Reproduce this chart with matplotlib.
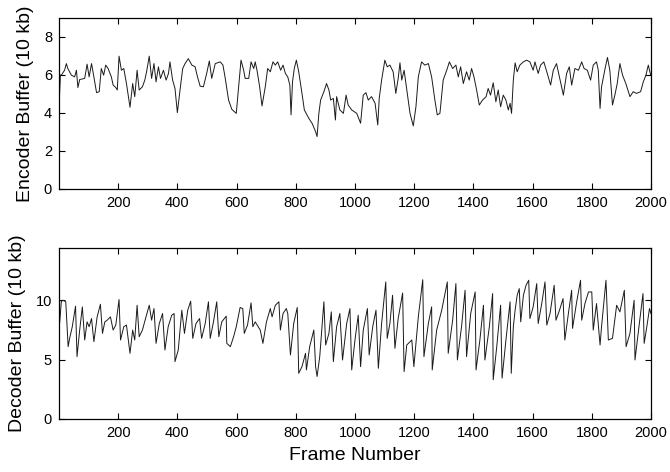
import matplotlib
matplotlib.use("Agg")
import matplotlib.pyplot as plt

plt.rcParams['font.family'] = ['Liberation Sans', 'DejaVu Sans']

enc_frames = [0, 5, 8, 19, 25, 30, 42, 53, 59, 64, 70, 87, 95, 102, 110, 117, 127, 136, 143, 151, 158, 166, 177, 183, 192, 197,
              203, 211, 219, 228, 240, 249, 256, 264, 271, 282, 290, 296, 305, 313, 321, 328, 336, 343, 353, 362, 370, 375, 384,
              392, 400, 409, 418, 426, 437, 449, 460, 468, 477, 488, 499, 508, 516, 528, 545, 554, 561, 573, 584, 599, 607, 615,
              624, 629, 641, 649, 658, 663, 669, 678, 686, 697, 705, 714, 723, 731, 739, 749, 757, 765, 773, 780, 784, 789, 795,
              802, 810, 821, 829, 844, 855, 867, 872, 878, 884, 895, 904, 912, 918, 927, 934, 938, 949, 961, 970, 977, 989, 1006,
              1019, 1028, 1037, 1045, 1056, 1068, 1077, 1082, 1090, 1101, 1109, 1118, 1129, 1138, 1146, 1152, 1158, 1166, 1175,
              1186, 1197, 1206, 1214, 1225, 1236, 1248, 1259, 1270, 1278, 1287, 1298, 1310, 1319, 1330, 1341, 1349, 1357, 1366,
              1377, 1386, 1394, 1402, 1411, 1420, 1431, 1443, 1450, 1458, 1467, 1476, 1484, 1492, 1501, 1510, 1518, 1524, 1529,
              1535, 1541, 1548, 1557, 1569, 1580, 1591, 1602, 1608, 1619, 1627, 1638, 1648, 1661, 1670, 1681, 1693, 1704, 1715,
              1724, 1732, 1743, 1755, 1766, 1774, 1785, 1796, 1805, 1816, 1822, 1828, 1833, 1845, 1853, 1861, 1870, 1878, 1886,
              1895, 1904, 1915, 1929, 1940, 1951, 1965, 1974, 1983, 1991, 1999]
enc_values = [4.30, 6.00, 5.99, 6.25, 6.60, 6.34, 5.99, 5.90, 6.25, 5.34, 5.76, 5.82, 6.57, 5.90, 6.60, 5.99, 5.07, 5.12, 6.34,
              5.99, 6.52, 6.34, 5.90, 5.47, 5.34, 5.21, 6.99, 6.25, 6.34, 5.55, 4.30, 5.55, 4.86, 6.25, 5.21, 5.38, 5.73, 6.17,
              6.99, 5.82, 6.60, 5.64, 6.43, 5.82, 6.25, 5.73, 6.08, 6.69, 5.73, 5.29, 4.02, 5.21, 6.34, 6.60, 6.86, 6.52, 6.43,
              5.90, 5.41, 5.38, 6.08, 6.74, 5.82, 6.60, 6.69, 6.52, 5.90, 4.68, 4.19, 3.98, 5.38, 6.78, 6.25, 5.82, 5.82, 6.69,
              6.34, 6.69, 6.25, 5.38, 4.37, 5.38, 6.34, 6.17, 6.69, 6.52, 6.69, 6.25, 6.52, 6.08, 5.90, 5.47, 3.90, 5.64, 6.34,
              6.78, 6.17, 5.03, 4.16, 3.72, 3.46, 3.02, 2.76, 3.98, 4.68, 5.12, 5.55, 5.21, 4.68, 4.77, 3.63, 4.86, 4.16, 3.98,
              4.94, 4.42, 4.16, 3.98, 3.46, 4.94, 5.07, 4.68, 4.86, 4.51, 3.37, 4.77, 5.73, 6.78, 6.43, 6.52, 6.17, 5.03, 5.82,
              6.64, 5.73, 6.25, 5.21, 3.98, 3.32, 4.33, 5.90, 6.69, 6.52, 6.60, 5.90, 4.68, 3.90, 3.98, 5.73, 6.25, 6.69, 6.34,
              6.52, 5.90, 6.43, 5.55, 6.17, 5.73, 6.34, 5.90, 5.21, 4.42, 4.68, 4.86, 5.29, 4.94, 5.59, 4.59, 5.21, 4.33, 4.94,
              4.68, 4.16, 4.51, 3.98, 5.73, 6.64, 6.17, 6.52, 6.69, 6.78, 6.69, 6.25, 6.69, 6.08, 6.52, 6.69, 6.17, 5.47, 6.25,
              6.60, 5.73, 4.94, 6.08, 6.43, 5.47, 6.34, 6.25, 6.69, 6.34, 6.25, 5.73, 6.52, 6.69, 6.25, 4.24, 5.38, 6.34, 6.92,
              6.25, 4.42, 4.94, 5.55, 6.60, 5.99, 5.55, 4.86, 5.12, 5.03, 5.12, 5.64, 5.99, 6.52, 5.99]

dec_frames = [0, 3, 8, 14, 23, 31, 36, 45, 56, 61, 70, 79, 87, 95, 102, 110, 118, 129, 140, 147, 155, 163, 174, 183, 192, 203,
              208, 219, 228, 240, 249, 256, 264, 271, 282, 294, 305, 313, 321, 328, 339, 350, 358, 369, 381, 389, 392, 403, 415,
              424, 435, 445, 452, 463, 475, 482, 494, 505, 511, 522, 533, 540, 550, 565, 567, 579, 590, 599, 612, 621, 626, 637,
              649, 655, 663, 680, 689, 701, 714, 720, 731, 743, 748, 757, 768, 773, 782, 793, 805, 810, 821, 833, 836, 847, 861,
              867, 872, 881, 895, 901, 912, 920, 927, 938, 949, 958, 972, 983, 989, 1000, 1011, 1019, 1028, 1042, 1048, 1060,
              1071, 1079, 1090, 1104, 1109, 1118, 1127, 1135, 1146, 1161, 1166, 1175, 1192, 1199, 1214, 1229, 1233, 1248, 1259,
              1261, 1276, 1293, 1312, 1315, 1330, 1341, 1346, 1360, 1372, 1377, 1391, 1406, 1409, 1422, 1434, 1439, 1454, 1465,
              1467, 1479, 1492, 1497, 1510, 1524, 1528, 1535, 1541, 1548, 1555, 1560, 1569, 1578, 1587, 1591, 1602, 1614, 1619,
              1631, 1642, 1648, 1659, 1673, 1679, 1691, 1703, 1709, 1721, 1732, 1735, 1749, 1762, 1766, 1777, 1789, 1800, 1805,
              1816, 1828, 1833, 1848, 1856, 1870, 1884, 1895, 1910, 1916, 1929, 1943, 1946, 1954, 1973, 1977, 1986, 1995, 2000]
dec_values = [7.50, 8.30, 9.90, 10.00, 9.87, 6.09, 6.79, 7.77, 9.50, 5.25, 7.49, 9.44, 6.65, 8.18, 7.77, 8.46, 6.51, 8.60, 9.66,
              7.21, 8.18, 8.32, 8.60, 7.49, 7.91, 10.06, 6.65, 7.77, 7.91, 5.53, 7.49, 6.65, 9.58, 6.93, 7.49, 8.60, 9.58, 8.32,
              9.30, 6.37, 8.04, 8.88, 5.81, 7.77, 8.74, 8.88, 4.83, 5.81, 9.16, 7.21, 9.16, 9.92, 6.79, 8.04, 8.46, 6.79, 8.04,
              9.87, 6.79, 8.18, 9.87, 6.93, 8.18, 8.66, 6.37, 6.09, 6.93, 7.77, 9.39, 9.30, 7.21, 7.91, 9.78, 7.77, 8.18, 7.49,
              6.37, 8.18, 9.30, 8.60, 9.58, 9.87, 7.49, 8.88, 9.30, 8.88, 5.39, 8.04, 9.39, 3.85, 4.41, 5.53, 4.13, 6.09, 7.49,
              4.41, 3.58, 5.25, 9.87, 6.23, 7.21, 9.02, 4.83, 7.77, 8.88, 4.97, 8.04, 9.30, 4.13, 6.65, 8.74, 4.41, 7.49, 9.30,
              5.39, 7.77, 9.16, 4.27, 8.04, 11.54, 6.79, 8.04, 10.42, 5.95, 8.46, 10.61, 3.99, 6.23, 6.65, 4.41, 8.60, 11.73,
              5.25, 8.04, 9.44, 4.13, 7.49, 9.16, 11.54, 5.53, 8.32, 11.40, 4.97, 7.77, 10.84, 5.25, 8.88, 10.70, 4.13, 6.65,
              9.58, 4.97, 7.77, 10.56, 3.30, 6.09, 9.58, 3.44, 6.65, 9.87, 3.85, 7.77, 9.16, 10.42, 10.98, 8.18, 10.42, 11.26,
              11.68, 8.46, 9.44, 11.40, 8.04, 9.72, 11.54, 7.91, 8.88, 11.26, 8.32, 9.16, 10.14, 6.65, 8.88, 10.84, 7.63, 9.86,
              11.68, 8.32, 9.72, 10.70, 10.70, 7.49, 9.72, 6.23, 7.77, 11.68, 6.65, 6.79, 9.58, 9.02, 10.84, 6.09, 7.21, 10.00,
              4.97, 6.65, 10.56, 6.37, 7.77, 9.30, 8.88]

x_ticks = [200, 400, 600, 800, 1000, 1200, 1400, 1600, 1800, 2000]
enc_yticks = [0, 2, 4, 6, 8]
dec_yticks = [0, 5, 10]

fig = plt.figure(figsize=(6.7, 4.72), dpi=100)
ax1 = fig.add_axes([0.088, 0.5996, 0.8836, 0.3623])
ax2 = fig.add_axes([0.088, 0.1123, 0.8836, 0.3623])

line_kw = dict(color='#1a1a1a', lw=0.7)
ax1.plot(enc_frames, enc_values, **line_kw)
ax2.plot(dec_frames, dec_values, **line_kw)

for ax, yt, ylim, lab in [(ax1, enc_yticks, (0, 9), 'Encoder Buffer (10 kb)'),
                          (ax2, dec_yticks, (0, 14.4), 'Decoder Buffer (10 kb)')]:
    ax.set_xlim(0, 2000)
    ax.set_ylim(*ylim)
    ax.set_xticks(x_ticks)
    ax.set_yticks(yt)
    ax.tick_params(direction='in', top=True, right=True, length=4, width=0.8, labelsize=10.5, pad=5)
    for s in ax.spines.values():
        s.set_linewidth(0.9)
    ax.set_ylabel(lab, fontsize=14, labelpad=7)

ax2.set_xlabel('Frame Number', fontsize=14, labelpad=5)

fig.savefig('out.png', dpi=100)
